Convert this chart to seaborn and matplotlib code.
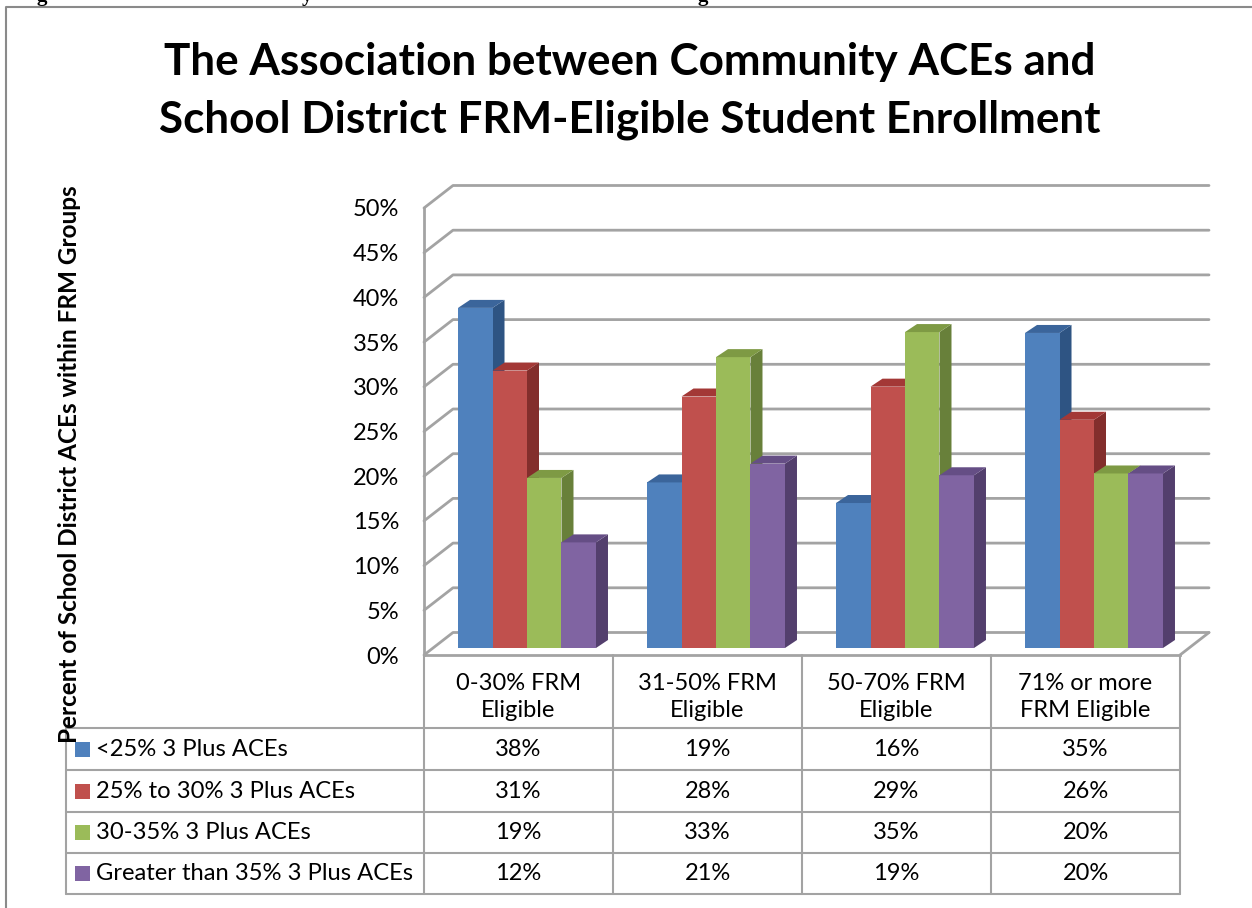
import matplotlib
matplotlib.use("Agg")
import matplotlib.pyplot as plt
import pandas as pd
import seaborn as sns
from matplotlib.patches import Polygon, Rectangle

# Data
groups = ["0-30% FRM\nEligible", "31-50% FRM\nEligible", "50-70% FRM\nEligible", "71% or more\nFRM Eligible"]
series = ["<25% 3 Plus ACEs", "25% to 30% 3 Plus ACEs", "30-35% 3 Plus ACEs", "Greater than 35% 3 Plus ACEs"]
low_aces = [38.0, 18.5, 16.2, 35.2]
mid_aces = [31.0, 28.1, 29.2, 25.5]
high_aces = [19.0, 32.5, 35.3, 19.5]
top_aces = [11.8, 20.6, 19.3, 19.5]
table_low = ["38%", "19%", "16%", "35%"]
table_mid = ["31%", "28%", "29%", "26%"]
table_high = ["19%", "33%", "35%", "20%"]
table_top = ["12%", "21%", "19%", "20%"]
y_ticks = [0, 5, 10, 15, 20, 25, 30, 35, 40, 45, 50]

front = ["#4F81BD", "#C0504D", "#9BBB59", "#8064A2"]
side = ["#2E5483", "#832E2C", "#68803A", "#533F6D"]
roof = ["#3B659B", "#A33836", "#7E9A44", "#654E85"]
GRAY = "#A3A3A3"
W, H = 1252, 908

df = pd.DataFrame({
    "group": groups * 4,
    "series": [s for s in series for _ in groups],
    "value": low_aces + mid_aces + high_aces + top_aces,
})

sns.set_theme(style="white")
plt.rcParams["font.family"] = ["Lato", "DejaVu Sans"]

fig = plt.figure(figsize=(W / 100, H / 100), dpi=100, facecolor="white")


def box(x0, y_top, x1, y_bottom):
    return [x0 / W, 1 - y_bottom / H, (x1 - x0) / W, (y_bottom - y_top) / H]


# page layer in pixel coordinates: frame, table, titles
page = fig.add_axes([0, 0, 1, 1])
page.set_xlim(0, W)
page.set_ylim(H, 0)
page.axis("off")
page.plot([6, 6, W], [H, 7, 7], color="#8A8A8A", lw=1.5)
for x_tail, letter in [(42, "g"), (307, "y"), (703, "g")]:
    page.text(x_tail, 0.5, letter, family="Liberation Serif", weight="bold", fontsize=15,
              ha="center", va="baseline", color="black")

page.text(630, 62, "The Association between Community ACEs and", fontsize=31.7, weight="bold", ha="center", va="center", color="black")
page.text(630, 120, "School District FRM-Eligible Student Enrollment", fontsize=31.7, weight="bold", ha="center", va="center", color="black")
page.text(70, 464, "Percent of School District ACEs within FRM Groups", fontsize=17.5, weight="bold",
          rotation=90, ha="center", va="center", color="black", zorder=5)

# data table under the chart
col_x = [424, 613, 802, 991, 1180]
row_y = [728, 770, 812, 853, 894]
for x in col_x:
    page.plot([x, x], [655, row_y[-1]], color=GRAY, lw=1.5, zorder=1)
page.plot([66, 66], [row_y[0], row_y[-1]], color=GRAY, lw=1.5, zorder=1)
for y in row_y:
    page.plot([66, col_x[-1]], [y, y], color=GRAY, lw=1.5, zorder=1)
for i, label in enumerate(groups):
    page.text((col_x[i] + col_x[i + 1]) / 2, 697, label, fontsize=17, ha="center", va="center",
              color="black", linespacing=1.37)
rows = [table_low, table_mid, table_high, table_top]
for r, cells in enumerate(rows):
    yc = (row_y[r] + row_y[r + 1]) / 2
    page.add_patch(Rectangle((75, yc - 7.5), 15, 15, color=front[r], lw=0, zorder=2))
    page.text(96, yc, series[r], fontsize=17.1, ha="left", va="center", color="black", zorder=6)
    for i, cell in enumerate(cells):
        page.text((col_x[i] + col_x[i + 1]) / 2, yc, cell, fontsize=17, ha="center", va="center", color="black")

# back wall, side wall and floor with the value axis
wall = fig.add_axes(box(424, 208, 1180, 655))
wall.patch.set_alpha(0)
wall.set_xlim(-0.5, 3.5)
wall.set_ylim(0, 50)
wall.set_xticks([])
wall.set_yticks(y_ticks)
wall.set_yticklabels([f"{t}%" for t in y_ticks], fontsize=17, color="black")
wall.tick_params(axis="y", length=0, pad=18)
sns.despine(ax=wall, top=True, right=True)
for name in ["left", "bottom"]:
    wall.spines[name].set_color(GRAY)
    wall.spines[name].set_linewidth(2)
back_x = 29 / 189
back_y = 22.5 / 8.94
for t in y_ticks:
    wall.plot([-0.5, -0.5 + back_x, 3.5 + back_x], [t, t + back_y, t + back_y],
              color=GRAY, lw=2, clip_on=False, zorder=1)
wall.plot([3.5, 3.5 + back_x], [0, back_y], color=GRAY, lw=2, clip_on=False, zorder=1)

# bars, shifted into the middle of the depth
ax = fig.add_axes(box(432.5, 200.5, 1188.5, 648))
ax.patch.set_alpha(0)
sns.barplot(data=df, x="group", y="value", hue="series", order=groups, hue_order=series,
            palette=front, width=0.73, gap=0, saturation=1, legend=False, ax=ax)
ax.set_xlim(-0.5, 3.5)
ax.set_ylim(0, 50)
ax.axis("off")

depth_x = 12 / 189
depth_y = 8 / 8.95
bars = sorted(ax.patches, key=lambda b: b.get_x())
for n, bar in enumerate(bars):
    s = front.index(matplotlib.colors.to_hex(bar.get_facecolor()).upper())
    x0, w, h = bar.get_x(), bar.get_width(), bar.get_height()
    x1 = x0 + w
    bar.set_zorder(3 + n * 3)
    bar.set_linewidth(0)
    ax.add_patch(Polygon([(x1, 0), (x1 + depth_x, depth_y), (x1 + depth_x, h + depth_y), (x1, h)],
                         closed=True, color=side[s], lw=0, zorder=2 + n * 3, clip_on=False))
    ax.add_patch(Polygon([(x0, h), (x0 + depth_x, h + depth_y), (x1 + depth_x, h + depth_y), (x1, h)],
                         closed=True, color=roof[s], lw=0, zorder=3.5 + n * 3, clip_on=False))

fig.savefig("out.png", dpi=100)
